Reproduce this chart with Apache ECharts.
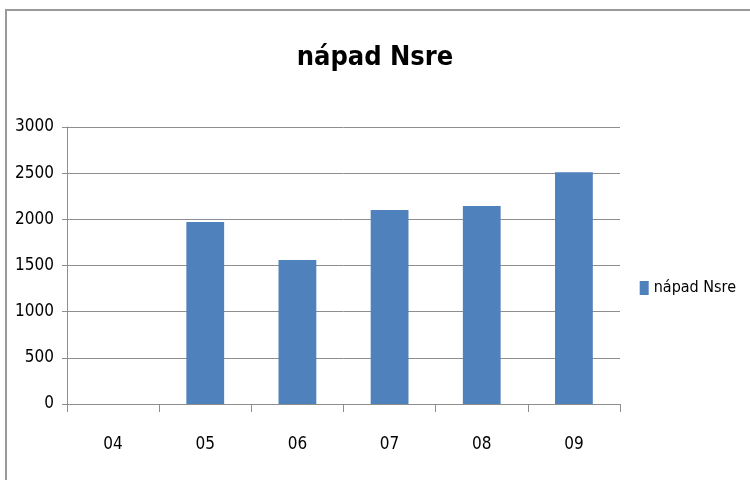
<!DOCTYPE html>
<html>
<head>
<meta charset="utf-8">
<script src="https://cdn.jsdelivr.net/npm/echarts@6/dist/echarts.min.js"></script>
<style>
  html, body { margin: 0; padding: 0; background: #fff; }
  #wrap { position: relative; width: 750px; height: 480px; overflow: hidden; }
  #frame {
    position: absolute; left: 5px; top: 9px; width: 800px; height: 520px;
    border-top: 2px solid #9a9a9a; border-left: 2px solid #9a9a9a;
  }
  #chart { position: absolute; left: 0; top: 0; width: 750px; height: 480px; }
</style>
</head>
<body>
<div id="wrap">
  <div id="frame"></div>
  <div id="chart"></div>
</div>
<script>
const title = 'nápad Nsre'
const months = ['04', '05', '06', '07', '08', '09']
const napad = [0, 1970, 1560, 2100, 2145, 2510]
const yTicks = [0, 500, 1000, 1500, 2000, 2500, 3000]

const font = "'Liberation Sans Narrow', 'DejaVu Sans Condensed', sans-serif"
const axisGray = '#8e8e8e'

const chart = echarts.init(document.getElementById('chart'))
chart.setOption({
  animation: false,
  backgroundColor: 'transparent',
  textStyle: { fontFamily: font },
  title: {
    text: title,
    left: 'center',
    top: 39,
    textStyle: { fontFamily: font, fontSize: 27, fontWeight: 'bold', color: '#000' },
  },
  legend: {
    data: [title],
    right: 9,
    top: 275,
    orient: 'vertical',
    icon: 'rect',
    itemWidth: 9,
    itemHeight: 14,
    itemGap: 5,
    textStyle: { fontFamily: font, fontSize: 16, color: '#000' },
  },
  grid: { left: 67, right: 130, top: 127, bottom: 76 },
  xAxis: {
    type: 'category',
    data: months,
    axisLine: { lineStyle: { color: axisGray, width: 1 } },
    axisTick: { show: true, length: 8, alignWithLabel: false, lineStyle: { color: axisGray } },
    axisLabel: { color: '#000', fontSize: 17, margin: 32 },
  },
  yAxis: {
    type: 'value',
    min: yTicks[0],
    max: yTicks[yTicks.length - 1],
    interval: 500,
    axisLine: { show: true, lineStyle: { color: axisGray } },
    axisTick: { show: true, length: 5, lineStyle: { color: axisGray } },
    axisLabel: { color: '#000', fontSize: 17, margin: 13, formatter: (v) => String(v) },
    splitLine: { lineStyle: { color: axisGray, width: 1 } },
  },
  series: [
    {
      name: title,
      type: 'bar',
      data: napad,
      barWidth: '41%',
      itemStyle: { color: '#4f81bd' },
    },
  ],
})
</script>
</body>
</html>
